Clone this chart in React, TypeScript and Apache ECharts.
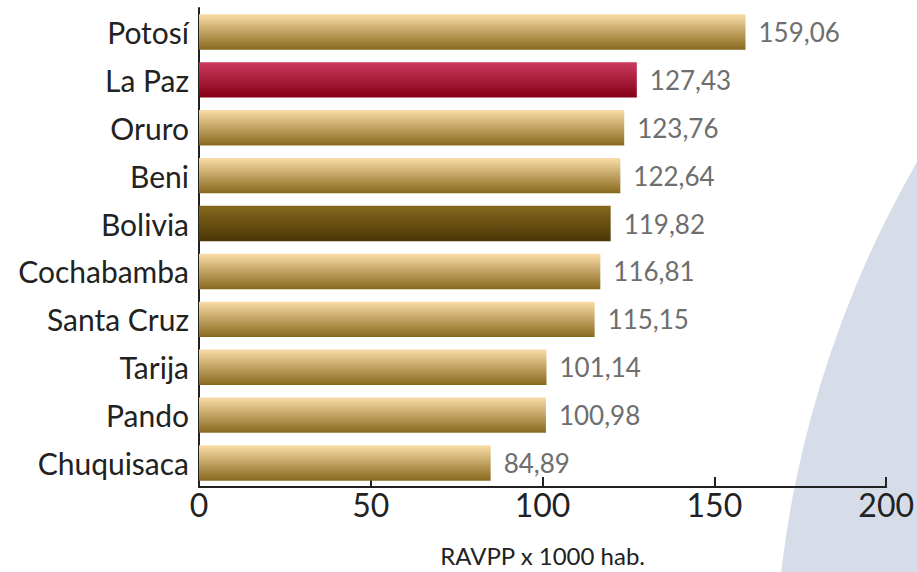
import React, { useEffect, useRef } from "react";
import * as echarts from "echarts";

const categories = ["Potosí", "La Paz", "Oruro", "Beni", "Bolivia", "Cochabamba", "Santa Cruz", "Tarija", "Pando", "Chuquisaca"];
const values = [159.06, 127.43, 123.76, 122.64, 119.82, 116.81, 115.15, 101.14, 100.98, 84.89];
const xTicks = [0, 50, 100, 150, 200];
const axisTitle = "RAVPP x 1000 hab.";

const grad = (a: string, b: string) =>
  new echarts.graphic.LinearGradient(0, 0, 0, 1, [
    { offset: 0, color: a },
    { offset: 1, color: b },
  ]);

const colorFor = (name: string) => {
  if (name === "La Paz") return grad("#cc3a5e", "#840015");
  if (name === "Bolivia") return grad("#86691f", "#4a3606");
  return grad("#fadda8", "#87691d");
};

export default function App() {
  const ref = useRef<HTMLDivElement>(null);
  useEffect(() => {
    if (!ref.current) return;
    const chart = echarts.init(ref.current, null, { renderer: "svg" });
    const font = "Lato";
    chart.setOption({
      animation: false,
      backgroundColor: "#ffffff",
      graphic: [
        {
          type: "circle",
          z: -10,
          silent: true,
          shape: { cx: 1842, cy: 696, r: 1068 },
          style: { fill: "#d6dce8" },
        },
      ],
      grid: { left: 199, right: 30, top: 8, bottom: 80, containLabel: false },
      xAxis: {
        type: "value",
        min: xTicks[0],
        max: xTicks[xTicks.length - 1],
        interval: 50,
        name: axisTitle,
        nameLocation: "middle",
        nameGap: 56,
        nameTextStyle: { fontFamily: font, fontSize: 24, color: "#222" },
        axisLine: { show: true, lineStyle: { color: "#222", width: 2 } },
        axisTick: { show: true, inside: true, length: 10, lineStyle: { color: "#222", width: 2 } },
        axisLabel: { fontFamily: font, fontSize: 32, color: "#222", margin: 1 },
        splitLine: { show: false },
      },
      yAxis: {
        type: "category",
        data: categories,
        inverse: true,
        axisLine: { show: true, lineStyle: { color: "#222", width: 2 } },
        axisTick: { show: false },
        axisLabel: { fontFamily: font, fontSize: 30, color: "#222", margin: 10 },
      },
      series: [
        {
          type: "bar",
          data: values.map((v, i) => ({ value: v, itemStyle: { color: colorFor(categories[i]) } })),
          barCategoryGap: "26%",
          label: {
            show: true,
            position: "right",
            distance: 13,
            fontFamily: font,
            fontSize: 26,
            color: "#6e6e6e",
            formatter: (p: any) => p.value.toFixed(2).replace(".", ","),
          },
        },
      ],
    });
    return () => chart.dispose();
  }, []);
  return <div ref={ref} style={{ position: "absolute", left: 0, top: 0, width: 917, height: 572 }} />;
}
